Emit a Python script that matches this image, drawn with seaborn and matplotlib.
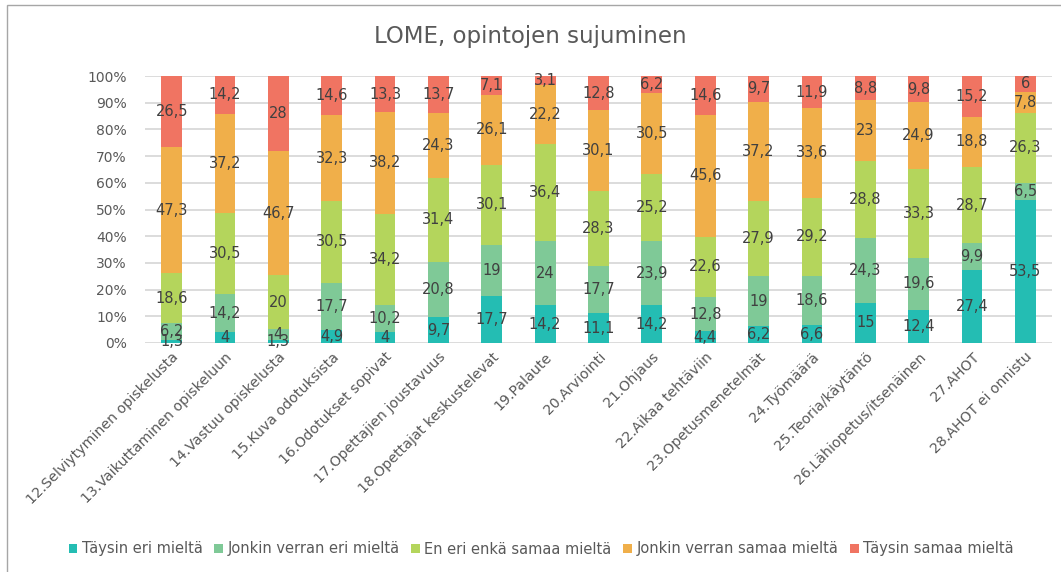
import matplotlib
matplotlib.use("Agg")
import matplotlib.pyplot as plt
from matplotlib.patches import Rectangle
import seaborn as sns
import numpy as np
import pandas as pd

# Survey items (x axis)
categories = [
    "12.Selviytyminen opiskelusta",
    "13.Vaikuttaminen opiskeluun",
    "14.Vastuu opiskelusta",
    "15.Kuva odotuksista",
    "16.Odotukset sopivat",
    "17.Opettajien joustavuus",
    "18.Opettajat keskustelevat",
    "19.Palaute",
    "20.Arviointi",
    "21.Ohjaus",
    "22.Aikaa tehtäviin",
    "23.Opetusmenetelmät",
    "24.Työmäärä",
    "25.Teoria/käytäntö",
    "26.Lähiopetus/itsenäinen",
    "27.AHOT",
    "28.AHOT ei onnistu",
]

# Answer shares (%), one list per response option
taysin_eri = [1.3, 4, 1.3, 4.9, 4, 9.7, 17.7, 14.2, 11.1, 14.2, 4.4, 6.2, 6.6, 15, 12.4, 27.4, 53.5]
jonkin_eri = [6.2, 14.2, 4, 17.7, 10.2, 20.8, 19, 24, 17.7, 23.9, 12.8, 19, 18.6, 24.3, 19.6, 9.9, 6.5]
neutraali = [18.6, 30.5, 20, 30.5, 34.2, 31.4, 30.1, 36.4, 28.3, 25.2, 22.6, 27.9, 29.2, 28.8, 33.3, 28.7, 26.3]
jonkin_samaa = [47.3, 37.2, 46.7, 32.3, 38.2, 24.3, 26.1, 22.2, 30.1, 30.5, 45.6, 37.2, 33.6, 23, 24.9, 18.8, 7.8]
taysin_samaa = [26.5, 14.2, 28, 14.6, 13.3, 13.7, 7.1, 3.1, 12.8, 6.2, 14.6, 9.7, 11.9, 8.8, 9.8, 15.2, 6]

series_names = [
    "Täysin eri mieltä",
    "Jonkin verran eri mieltä",
    "En eri enkä samaa mieltä",
    "Jonkin verran samaa mieltä",
    "Täysin samaa mieltä",
]
series_values = [taysin_eri, jonkin_eri, neutraali, jonkin_samaa, taysin_samaa]
colors = ["#24BDB3", "#7FC997", "#B4D55C", "#F0AF4A", "#F07462"]

sns.set_theme(style="white")
plt.rcParams["font.family"] = ["DejaVu Sans"]

fig = plt.figure(figsize=(10.61, 5.72), dpi=100)
ax = fig.add_axes([145 / 1061, 1 - 343 / 572, (1052 - 145) / 1061, (343 - 76) / 572])

text_grey = "#595959"
label_grey = "#404040"

bottom = np.zeros(len(categories))
for name, vals, col in zip(series_names, series_values, colors):
    vals = np.asarray(vals, dtype=float)
    df = pd.DataFrame({"kysymys": categories, "osuus": vals})
    sns.barplot(data=df, x="kysymys", y="osuus", color=col, bottom=bottom,
                width=0.39, saturation=1, linewidth=0, ax=ax, label=name,
                errorbar=None)
    for i, v in enumerate(vals):
        txt = f"{v:g}".replace(".", ",")
        ax.text(i, bottom[i] + v / 2, txt, ha="center", va="center",
                fontsize=10.5, color=label_grey)
    bottom += vals

ax.set_ylim(0, 100)
ax.set_xlim(-0.5, len(categories) - 0.5)
ax.set_yticks(np.arange(0, 101, 10))
ax.set_yticklabels([f"{t}%" for t in range(0, 101, 10)], fontsize=10, color=text_grey)
ax.tick_params(axis="y", length=0, pad=13)
ax.tick_params(axis="x", length=0, pad=5)
ax.set_xticks(range(len(categories)))
ax.set_xticklabels(categories, rotation=45, ha="right", rotation_mode="anchor",
                   fontsize=10.2, color=text_grey)
ax.set_xlabel("")
ax.set_ylabel("")
ax.yaxis.grid(True, color="#D9D9D9", linewidth=1.3)
ax.set_axisbelow(True)
for s in ax.spines.values():
    s.set_visible(False)

fig.suptitle("LOME, opintojen sujuminen", x=0.5, y=1 - 37 / 572, va="center",
             fontsize=16.5, color=text_grey)

handles, labels = ax.get_legend_handles_labels()
ax.legend(handles, labels, loc="center", bbox_to_anchor=(0.51, 1 - 549 / 572),
          bbox_transform=fig.transFigure, ncol=5, frameon=False, fontsize=10.5,
          handlelength=0.6, handleheight=0.6, handletextpad=0.3, columnspacing=0.8,
          labelcolor=text_grey)

# Chart frame
fig.patches.append(Rectangle((7 / 1061, -0.05), 1.2, 1 - 5 / 572 + 0.05,
                             transform=fig.transFigure, fill=False,
                             edgecolor="#A6A6A6", linewidth=1))

fig.savefig("out.png", dpi=100)
